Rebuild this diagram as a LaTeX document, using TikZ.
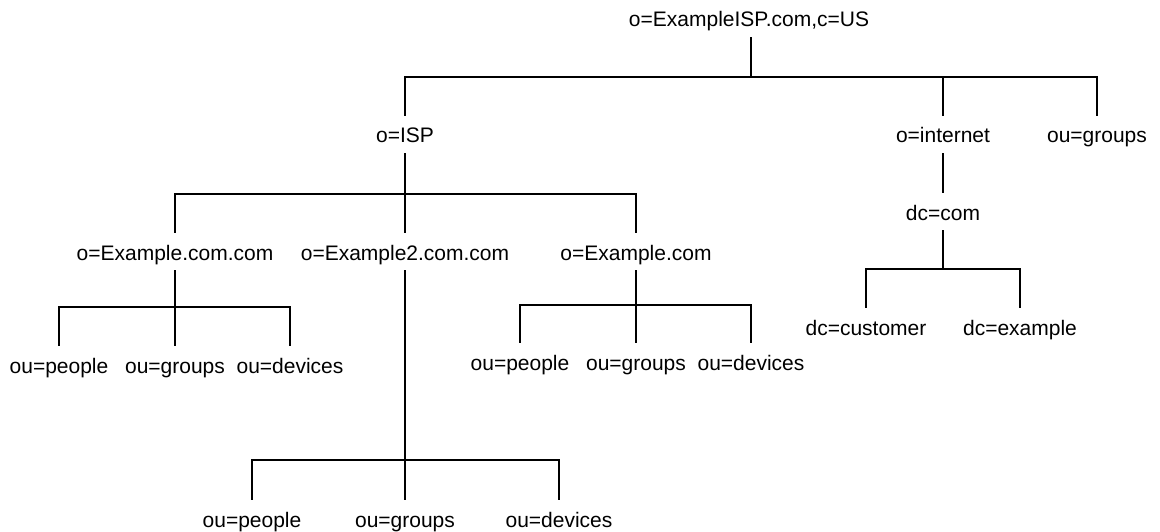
\documentclass[tikz,border=0pt]{standalone}
\usepackage{fontspec}
\setmainfont{Liberation Sans}
\begin{document}
\begin{tikzpicture}[x=1pt,y=-1pt,
  entry/.style={anchor=base,inner xsep=0pt,inner ysep=3pt,
    text height=25pt,text depth=8pt,font=\fontsize{21}{24}\selectfont},
  link/.style={line width=1.5pt,line cap=rect}]
\useasboundingbox (0,0) rectangle (1160,532);

% directory entries (baseline positions)
\node[entry] (root) at (749,27)  {o=ExampleISP.com,c=US};
\node[entry] (isp)  at (405,143) {o=ISP};
\node[entry] (inet) at (943,143) {o=internet};
\node[entry] (ogr)  at (1097,143){ou=groups};
\node[entry] (dcc)  at (943,220) {dc=com};

\node[entry] (exa)  at (175,260) {o=Example.com.com};
\node[entry] (exb)  at (405,260) {o=Example2.com.com};
\node[entry] (exc)  at (636,260) {o=Example.com};

\node[entry] (apeo) at (59,373)  {ou=people};
\node[entry] (agrp) at (175,373) {ou=groups};
\node[entry] (adev) at (290,373) {ou=devices};

\node[entry] (cpeo) at (520,370) {ou=people};
\node[entry] (cgrp) at (636,370) {ou=groups};
\node[entry] (cdev) at (751,370) {ou=devices};

\node[entry] (dcu)  at (866,335) {dc=customer};
\node[entry] (dex)  at (1020,335){dc=example};

\node[entry] (bpeo) at (252,527) {ou=people};
\node[entry] (bgrp) at (405,527) {ou=groups};
\node[entry] (bdev) at (559,527) {ou=devices};

% junctions on the horizontal bars
\coordinate (j0) at (751,77);
\coordinate (j1) at (405,194);
\coordinate (j2) at (175,307);
\coordinate (j3) at (636,305);
\coordinate (j4) at (943,269);
\coordinate (j5) at (405,460);

% root level
\draw[link] (j0 |- root.south) -- (j0);
\draw[link] (isp.north) |- (j0) -| (ogr.north);
\draw[link] (j0 -| inet.north) -- (inet.north);

% o=ISP branch
\draw[link] (isp.south) -- (j1);
\draw[link] (exa.north) |- (j1) -| (exc.north);
\draw[link] (j1) -- (exb.north);

% o=Example.com.com leaves
\draw[link] (exa.south) -- (j2);
\draw[link] (apeo.north) |- (j2) -| (adev.north);
\draw[link] (j2) -- (agrp.north);

% o=Example.com leaves
\draw[link] (exc.south) -- (j3);
\draw[link] (cpeo.north) |- (j3) -| (cdev.north);
\draw[link] (j3) -- (cgrp.north);

% o=Example2.com.com leaves
\draw[link] (exb.south) -- (j5);
\draw[link] (bpeo.north) |- (j5) -| (bdev.north);
\draw[link] (j5) -- (bgrp.north);

% o=internet branch
\draw[link] (inet.south) -- (dcc.north);
\draw[link] (dcc.south) -- (j4);
\draw[link] (dcu.north) |- (j4) -| (dex.north);
\end{tikzpicture}
\end{document}
